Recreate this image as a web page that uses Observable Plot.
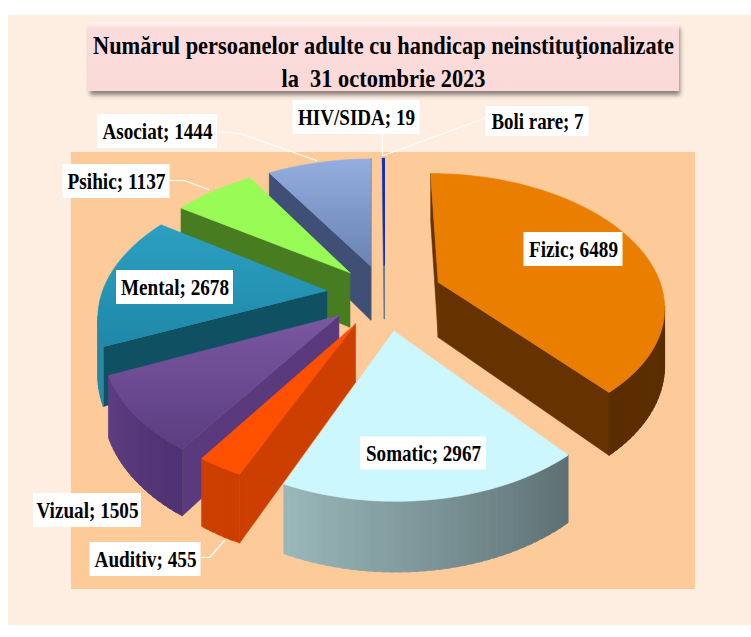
<!DOCTYPE html>
<html>
<head>
<meta charset="utf-8">
<script src="https://cdn.jsdelivr.net/npm/d3@7"></script>
<script src="https://cdn.jsdelivr.net/npm/@observablehq/plot@0.6"></script>
<style>
html,body{margin:0;padding:0;background:#fff}
svg{display:block}
</style>
</head>
<body>
<div id="chart"></div>
<script>
// Data
const categories = ["Fizic","Somatic","Auditiv","Vizual","Mental","Psihic","Asociat","HIV/SIDA","Boli rare"];
const values = [6489,2967,455,1505,2678,1137,1444,19,7];
const titleLines = ["Numărul persoanelor adulte cu handicap neinstituţionalizate","la\u00a0 31 octombrie 2023"];

// Styles
const topColors  = ["#e97e00","#ccf7ff","#ff5000","url(#gViz)","url(#gMen)","#99fb55","url(#gAso)","#0a22c8","#0a22c8"];
const sideColors = ["#663300","#5d7478","#cc3f00","#5a3a7c","#0f5062","#477d20","#3f4f76","#6b7a92","#6b7a92"];
const wallStart  = ["#663300","#5d7074","#cc3f00","#4f3272","#2a8aa8","#477d20","#3f4f76","#0a22c8","#0a22c8"];
const wallEnd    = ["#5a2d00","#9bb9bb","#cc3f00","#5f3f82","#1f7a98","#477d20","#3f4f76","#0a22c8","#0a22c8"];

// Layout
const W = 751, H = 637;
const cx = 384, cy = 293, a = 232, b = 134, p = 0.17, depth = 56;
const explodeBy = [0.25,0.27,0.25,0.25,0.25,0.22,0.22,0.22,0.22];
const radiusBy  = [0.97,0.96,0.96,0.97,0.97,1,1,1,1];
const labelX = [573,423,145,87,174.5,116,157,356,537];
const labelY = [249,453,559,510,287,181,131,117,121];
const boxW   = [99,126,111,108,117,107,120,127,103];
const boxH   = [34,33,34,34,34,34,34,34,30];
const textW  = [89,115,102,102,108,98,110,117,92];
const titleW = [581,204];
const leaders = [
  {id:"Asociat", pts:[[215,131],[240,133],[316,160]]},
  {id:"Psihic",  pts:[[169,180],[184,180],[208,189]]},
  {id:"Auditiv", pts:[[201,557],[209,557],[224,540]]},
  {id:"HIV",     pts:[[382,134],[382,155]]},
  {id:"Boli",    pts:[[486,117],[383,155]]}
];

// Pie geometry from the values
const arcs = d3.pie().sort(null).startAngle(0).endAngle(2*Math.PI)(values);

function proj(u, v, h) {
  const s = 1 / (1 - p * v);
  return [cx + a * u * s, cy + b * v * s + h * s];
}
function area(poly) {
  let t = 0;
  for (let i = 0; i < poly.length; i++) {
    const [x0, y0] = poly[i], [x1, y1] = poly[(i + 1) % poly.length];
    t += x0 * y1 - x1 * y0;
  }
  return t;
}

const slices = arcs.map((d, i) => {
  const m = (d.startAngle + d.endAngle) / 2;
  return {i, a0: d.startAngle, a1: d.endAngle, ou: explodeBy[i] * Math.sin(m), ov: -explodeBy[i] * Math.cos(m), r: radiusBy[i]};
}).sort((s, t) => s.ov - t.ov);

const pts = [];
function addFace(id, poly, color) {
  [...poly, poly[0]].forEach(([x, y]) => pts.push({id, x, y, color}));
}
for (const s of slices) {
  const {i, a0, a1, ou, ov, r} = s;
  const rim = (t, h) => proj(ou + r * Math.sin(t), ov - r * Math.cos(t), h);
  const apex = h => proj(ou, ov, h);
  // cut faces
  const f0 = [apex(0), rim(a0, 0), rim(a0, depth), apex(depth)];
  const f1 = [rim(a1, 0), apex(0), apex(depth), rim(a1, depth)];
  if (area(f0) < 0) addFace(`s${i}f0`, f0, sideColors[i]);
  if (area(f1) < 0) addFace(`s${i}f1`, f1, sideColors[i]);
  // outer wall: overlapping strips so that no seam shows
  const n = Math.max(2, Math.ceil((a1 - a0) / 0.03));
  const step = (a1 - a0) / n;
  const mix = d3.interpolateRgb(wallStart[i], wallEnd[i]);
  for (let k = 0; k < n; k++) {
    const t0 = a0 + step * k, t1 = Math.min(a1, t0 + step * 1.6);
    const q = [rim(t0, 0), rim(t1, 0), rim(t1, depth), rim(t0, depth)];
    if (area(q) < 0) addFace(`s${i}w${k}`, q, d3.color(mix(k / n)).formatHex());
  }
  // top face
  const top = [apex(0)];
  for (let k = 0; k <= n; k++) top.push(rim(a0 + step * k, 0));
  addFace(`s${i}top`, top, topColors[i]);
}

const labels = categories.map((c, i) => ({text: `${c}; ${values[i]}`, x: labelX[i], y: labelY[i], w: boxW[i], h: boxH[i]}));
const leaderPts = leaders.flatMap(l => l.pts.map(([x, y]) => ({id: l.id, x, y})));

const plot = Plot.plot({
  width: W, height: H, margin: 0,
  style: {background: "#fff"},
  x: {domain: [0, W], range: [0, W], axis: null},
  y: {domain: [0, H], range: [0, H], axis: null},
  color: {type: "identity"},
  marks: [
    () => d3.create("svg:defs").html(`
      <linearGradient id="pink" x1="0" y1="0" x2="0" y2="1">
        <stop offset="0" stop-color="#fff6f6"/><stop offset=".1" stop-color="#fbdcdc"/><stop offset="1" stop-color="#fbd9d9"/>
      </linearGradient>
      <linearGradient id="gViz" x1="0" y1="0" x2="0" y2="1">
        <stop offset="0" stop-color="#7a58a2"/><stop offset="1" stop-color="#5c3d80"/>
      </linearGradient>
      <linearGradient id="gMen" x1="0" y1="0" x2="0" y2="1">
        <stop offset="0" stop-color="#2ca0c2"/><stop offset="1" stop-color="#1f88a8"/>
      </linearGradient>
      <linearGradient id="gAso" x1="0" y1="0" x2="0" y2="1">
        <stop offset="0" stop-color="#94aee0"/><stop offset="1" stop-color="#6a82b4"/>
      </linearGradient>
      <filter id="soft" x="-5%" y="-20%" width="110%" height="140%"><feGaussianBlur stdDeviation="2"/></filter>`).node(),
    Plot.rect([0], {x1: 8, x2: W, y1: 15, y2: 625, fill: "#fdeee1"}),
    Plot.rect([0], {x1: 71, x2: 695, y1: 152, y2: 589, fill: "#fdcb9a"}),
    Plot.rect([0], {x1: 90, x2: 680, y1: 28, y2: 95, fill: "#6f6464", opacity: 0.8, className: "shadow"}),
    Plot.rect([0], {x1: 88, x2: 679, y1: 22, y2: 91, fill: "url(#pink)"}),
    Plot.line(pts, {x: "x", y: "y", z: "id", fill: "color", stroke: "color", strokeWidth: 0.6}),
    Plot.line(leaderPts, {x: "x", y: "y", z: "id", stroke: "#fff", strokeWidth: 1.2}),
    Plot.rect(labels, {x1: d => d.x - d.w / 2, x2: d => d.x + d.w / 2, y1: d => d.y - d.h / 2, y2: d => d.y + d.h / 2, fill: "#fff"}),
    Plot.text(labels, {x: "x", y: "y", text: "text", className: "lab", fontFamily: "Liberation Serif", fontWeight: "bold", fontSize: 24, fill: "#000"}),
    Plot.text(titleLines, {x: 383, y: (d, i) => [45, 78][i], text: d => d, className: "ttl", fontFamily: "Liberation Serif", fontWeight: "bold", fontSize: 25, fill: "#000"})
  ]
});
document.getElementById("chart").append(plot);
d3.select(plot).selectAll(".lab text").attr("textLength", (d, i) => textW[i]).attr("lengthAdjust", "spacingAndGlyphs");
d3.select(plot).selectAll(".ttl text").attr("textLength", (d, i) => titleW[i]).attr("lengthAdjust", "spacingAndGlyphs");
d3.select(plot).selectAll(".shadow").attr("filter", "url(#soft)");
</script>
</body>
</html>
